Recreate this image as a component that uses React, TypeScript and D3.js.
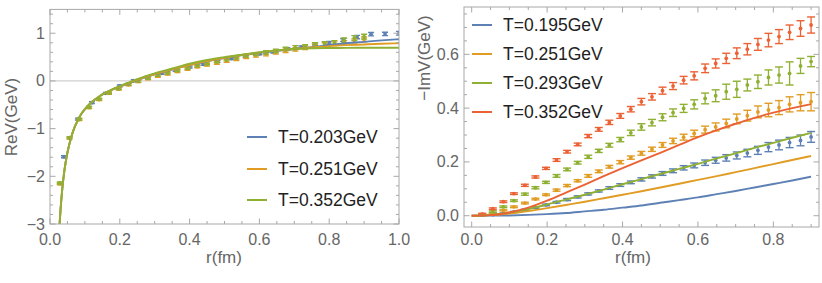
import React from "react";
import * as d3 from "d3";

// ---------- colours ----------
const BLUE = "#5E81B5";
const ORANGE = "#E19C24";
const GREEN = "#8FB032";
const RED = "#EB6235";

// ---------- LEFT PANEL (ReV) ----------
const leftLegend = ["T=0.203GeV", "T=0.251GeV", "T=0.352GeV"];
const leftXTicks = [0, 0.2, 0.4, 0.6, 0.8, 1.0];
const leftYTicks = [-3, -2, -1, 0, 1];

const leftCurveR = [0.0275, 0.03, 0.035, 0.04, 0.045, 0.05, 0.06, 0.07, 0.08, 0.09, 0.1, 0.12, 0.14, 0.16, 0.18, 0.2, 0.25, 0.3, 0.35, 0.4, 0.45, 0.5, 0.55, 0.6, 0.65, 0.7, 0.75, 0.8, 0.85, 0.9, 0.95, 1.0];
const leftCurveBlue = [-3.0, -2.72, -2.28, -1.95, -1.70, -1.50, -1.20, -0.98, -0.82, -0.69, -0.59, -0.44, -0.33, -0.245, -0.175, -0.12, 0.02, 0.14, 0.24, 0.33, 0.41, 0.48, 0.54, 0.59, 0.63, 0.67, 0.71, 0.75, 0.79, 0.82, 0.85, 0.875];
const leftCurveOrange = [-3.0, -2.72, -2.28, -1.95, -1.70, -1.50, -1.20, -0.98, -0.82, -0.69, -0.59, -0.44, -0.33, -0.245, -0.175, -0.118, 0.025, 0.145, 0.245, 0.335, 0.415, 0.485, 0.545, 0.595, 0.635, 0.67, 0.70, 0.73, 0.75, 0.765, 0.78, 0.79];
const leftCurveGreen = [-3.0, -2.72, -2.28, -1.95, -1.70, -1.50, -1.20, -0.98, -0.82, -0.69, -0.59, -0.44, -0.33, -0.24, -0.17, -0.11, 0.04, 0.16, 0.26, 0.36, 0.44, 0.50, 0.55, 0.60, 0.64, 0.67, 0.685, 0.69, 0.693, 0.695, 0.695, 0.695];

const leftBlueR = [0.04, 0.08, 0.12, 0.16, 0.2, 0.24, 0.28, 0.32, 0.36, 0.4, 0.44, 0.48, 0.52, 0.56, 0.6, 0.64, 0.68, 0.72, 0.76, 0.8, 0.84, 0.88, 0.92, 0.96, 1.0];
const leftBlueV = [-1.59, -0.80, -0.455, -0.26, -0.105, 0.006, 0.08, 0.16, 0.22, 0.29, 0.35, 0.41, 0.47, 0.52, 0.57, 0.61, 0.67, 0.71, 0.77, 0.80, 0.86, 0.92, 0.98, 0.985, 1.0];
const leftBlueErr = [0.02, 0.02, 0.02, 0.02, 0.02, 0.02, 0.02, 0.02, 0.02, 0.02, 0.02, 0.02, 0.02, 0.02, 0.02, 0.025, 0.025, 0.025, 0.03, 0.03, 0.03, 0.035, 0.035, 0.035, 0.04];

const leftFineR = [0.028, 0.056, 0.084, 0.112, 0.141, 0.169, 0.197, 0.225, 0.253, 0.281, 0.309, 0.337, 0.365, 0.394, 0.422, 0.45, 0.478, 0.506, 0.534, 0.562, 0.59, 0.619, 0.647, 0.675, 0.703, 0.731, 0.759, 0.787, 0.815, 0.843, 0.872, 0.9];
const leftOrangeV = [-2.16, -1.2, -0.81, -0.56, -0.39, -0.26, -0.17, -0.08, -0.01, 0.05, 0.10, 0.15, 0.20, 0.25, 0.30, 0.34, 0.38, 0.42, 0.46, 0.50, 0.53, 0.56, 0.60, 0.63, 0.66, 0.70, 0.73, 0.76, 0.78, 0.80, 0.84, 0.87];
const leftOrangeErr = [0.02, 0.02, 0.02, 0.02, 0.02, 0.02, 0.02, 0.02, 0.025, 0.025, 0.025, 0.025, 0.025, 0.025, 0.025, 0.03, 0.03, 0.03, 0.03, 0.03, 0.03, 0.035, 0.035, 0.035, 0.035, 0.04, 0.04, 0.04, 0.04, 0.045, 0.045, 0.05];
const leftGreenV = [-2.14, -1.19, -0.80, -0.55, -0.38, -0.25, -0.16, -0.07, 0.0, 0.06, 0.12, 0.17, 0.22, 0.27, 0.32, 0.37, 0.41, 0.45, 0.49, 0.53, 0.56, 0.60, 0.63, 0.67, 0.70, 0.72, 0.76, 0.78, 0.80, 0.85, 0.90, 0.93];
const leftGreenErr = [0.02, 0.02, 0.02, 0.02, 0.02, 0.02, 0.02, 0.02, 0.025, 0.025, 0.025, 0.025, 0.025, 0.025, 0.025, 0.03, 0.03, 0.03, 0.03, 0.03, 0.03, 0.035, 0.035, 0.035, 0.04, 0.04, 0.04, 0.045, 0.045, 0.05, 0.05, 0.05];

// ---------- RIGHT PANEL (-ImV) ----------
const rightLegend = ["T=0.195GeV", "T=0.251GeV", "T=0.293GeV", "T=0.352GeV"];
const rightXTicks = [0, 0.2, 0.4, 0.6, 0.8];
const rightYTicks = [0, 0.2, 0.4, 0.6];

const rightLineR = [0, 0.05, 0.1, 0.15, 0.2, 0.25, 0.3, 0.35, 0.4, 0.45, 0.5, 0.55, 0.6, 0.65, 0.7, 0.75, 0.8, 0.85, 0.9];
const rightLineBlue = [0, 0.0003, 0.001, 0.003, 0.006, 0.010, 0.016, 0.022, 0.030, 0.038, 0.048, 0.058, 0.068, 0.080, 0.092, 0.105, 0.118, 0.131, 0.145];
const rightLineOrange = [0, 0.002, 0.008, 0.017, 0.028, 0.040, 0.052, 0.065, 0.078, 0.091, 0.105, 0.119, 0.133, 0.147, 0.162, 0.177, 0.192, 0.207, 0.222];
const rightLineGreen = [0, 0.003, 0.012, 0.025, 0.042, 0.060, 0.078, 0.097, 0.117, 0.136, 0.155, 0.174, 0.193, 0.213, 0.232, 0.252, 0.271, 0.290, 0.308];
const rightLineRed = [0, 0.002, 0.012, 0.030, 0.056, 0.086, 0.116, 0.147, 0.177, 0.206, 0.234, 0.263, 0.292, 0.318, 0.342, 0.364, 0.383, 0.400, 0.415];

const rightR = [0.028, 0.056, 0.084, 0.112, 0.141, 0.169, 0.197, 0.225, 0.253, 0.281, 0.309, 0.337, 0.365, 0.394, 0.422, 0.45, 0.478, 0.506, 0.534, 0.562, 0.59, 0.619, 0.647, 0.675, 0.703, 0.731, 0.759, 0.787, 0.815, 0.843, 0.872, 0.9];
const rightBlueV = [0.002, 0.004, 0.008, 0.014, 0.021, 0.030, 0.040, 0.050, 0.060, 0.070, 0.081, 0.092, 0.103, 0.114, 0.124, 0.135, 0.146, 0.157, 0.167, 0.178, 0.187, 0.197, 0.206, 0.215, 0.224, 0.233, 0.243, 0.255, 0.263, 0.272, 0.280, 0.293];
const rightBlueErr = [0.002, 0.002, 0.002, 0.002, 0.003, 0.003, 0.003, 0.003, 0.004, 0.004, 0.004, 0.004, 0.005, 0.005, 0.005, 0.006, 0.006, 0.007, 0.007, 0.008, 0.009, 0.010, 0.011, 0.012, 0.013, 0.014, 0.015, 0.017, 0.018, 0.019, 0.020, 0.020];
const rightOrangeV = [0.003, 0.010, 0.020, 0.033, 0.047, 0.062, 0.078, 0.095, 0.112, 0.130, 0.148, 0.165, 0.182, 0.199, 0.216, 0.232, 0.247, 0.263, 0.278, 0.292, 0.306, 0.320, 0.330, 0.343, 0.360, 0.372, 0.386, 0.393, 0.402, 0.414, 0.420, 0.424];
const rightOrangeErr = [0.002, 0.002, 0.002, 0.003, 0.003, 0.003, 0.003, 0.004, 0.004, 0.004, 0.005, 0.005, 0.005, 0.006, 0.006, 0.007, 0.008, 0.009, 0.010, 0.011, 0.012, 0.013, 0.015, 0.016, 0.018, 0.020, 0.022, 0.025, 0.026, 0.028, 0.030, 0.034];
const rightGreenV = [0.004, 0.015, 0.033, 0.056, 0.080, 0.104, 0.124, 0.148, 0.172, 0.197, 0.219, 0.241, 0.262, 0.283, 0.308, 0.330, 0.346, 0.366, 0.383, 0.399, 0.414, 0.436, 0.446, 0.461, 0.470, 0.486, 0.498, 0.514, 0.523, 0.529, 0.557, 0.573];
const rightGreenErr = [0.002, 0.003, 0.003, 0.003, 0.004, 0.004, 0.004, 0.005, 0.005, 0.005, 0.006, 0.006, 0.007, 0.008, 0.010, 0.012, 0.012, 0.013, 0.014, 0.015, 0.017, 0.020, 0.022, 0.028, 0.030, 0.022, 0.025, 0.028, 0.030, 0.043, 0.028, 0.019];
const rightRedV = [0.006, 0.026, 0.052, 0.082, 0.113, 0.144, 0.176, 0.207, 0.238, 0.265, 0.296, 0.321, 0.347, 0.371, 0.396, 0.424, 0.442, 0.465, 0.482, 0.504, 0.520, 0.548, 0.566, 0.585, 0.604, 0.619, 0.637, 0.653, 0.666, 0.682, 0.696, 0.709];
const rightRedErr = [0.003, 0.003, 0.003, 0.003, 0.004, 0.004, 0.004, 0.005, 0.005, 0.005, 0.006, 0.007, 0.008, 0.009, 0.010, 0.012, 0.012, 0.013, 0.013, 0.014, 0.015, 0.016, 0.017, 0.019, 0.020, 0.021, 0.022, 0.025, 0.026, 0.027, 0.029, 0.030];

const FONT = "'Liberation Sans', Arial, sans-serif";
const FRAME = "#a8a8a8";
const TXT = "#666666";

type Series = { r: number[]; v: number[]; color: string };
type ErrSeries = { r: number[]; v: number[]; e: number[]; color: string };

function fmt(v: number, digits: number) {
  const s = v.toFixed(digits);
  return s.startsWith("-") ? "\u2212" + s.slice(1) : s;
}

function Panel(props: {
  id: string;
  x: d3.ScaleLinear<number, number>;
  y: d3.ScaleLinear<number, number>;
  xTicks: number[];
  yTicks: number[];
  xMinorStep: number;
  yMinorStep: number;
  xDigits: number;
  yDigits: number;
  yLabel: string;
  yLabelX: number;
  yLabelY: number;
  xLabelX: number;
  zeroLine: boolean;
  lines: Series[];
  points: ErrSeries[];
  capW: number;
  legend: { text: string; color: string }[];
  legendX: number;
  legendYs: number[];
}) {
  const { x, y } = props;
  const [x0, x1] = x.range();
  const [y0, y1] = y.range(); // y0 bottom, y1 top
  const xd = x.domain();
  const yd = y.domain();
  const xMinor = d3.range(Math.ceil(xd[0] / props.xMinorStep - 1e-9), Math.floor(xd[1] / props.xMinorStep + 1e-9) + 1).map((k) => k * props.xMinorStep);
  const yMinor = d3.range(Math.ceil(yd[0] / props.yMinorStep - 1e-9), Math.floor(yd[1] / props.yMinorStep + 1e-9) + 1).map((k) => k * props.yMinorStep);
  const isMajor = (v: number, ticks: number[]) => ticks.some((t) => Math.abs(t - v) < 1e-6);
  const line = d3
    .line<[number, number]>()
    .x((d) => x(d[0]))
    .y((d) => y(d[1]))
    .curve(d3.curveMonotoneX);
  const MAJ = 5.5;
  const MIN = 3;
  return (
    <g>
      <defs>
        <clipPath id={props.id}>
          <rect x={x0} y={y1} width={x1 - x0} height={y0 - y1} />
        </clipPath>
      </defs>
      {props.zeroLine && (
        <line x1={x0} x2={x1} y1={y(0)} y2={y(0)} stroke="#d0d0d0" strokeWidth={1.2} />
      )}
      <g clipPath={`url(#${props.id})`}>
        {props.points.map((s, si) => (
          <g key={"p" + si} stroke={s.color} fill={s.color}>
            {s.r.map((r, i) => {
              const cx = x(r);
              const top = y(s.v[i] + s.e[i]);
              const bot = y(s.v[i] - s.e[i]);
              return (
                <g key={i}>
                  <line x1={cx} x2={cx} y1={top} y2={bot} strokeWidth={1.3} />
                  <line x1={cx - props.capW} x2={cx + props.capW} y1={top} y2={top} strokeWidth={1.4} />
                  <line x1={cx - props.capW} x2={cx + props.capW} y1={bot} y2={bot} strokeWidth={1.4} />
                  <circle cx={cx} cy={y(s.v[i])} r={1.9} stroke="none" />
                </g>
              );
            })}
          </g>
        ))}
        {props.lines.map((s, si) => (
          <path
            key={"l" + si}
            d={line(s.r.map((r, i) => [r, s.v[i]] as [number, number])) || ""}
            fill="none"
            stroke={s.color}
            strokeWidth={1.9}
          />
        ))}
      </g>
      {/* frame */}
      <rect x={x0} y={y1} width={x1 - x0} height={y0 - y1} fill="none" stroke={FRAME} strokeWidth={1} />
      {/* x ticks */}
      {xMinor.map((v, i) => {
        const len = isMajor(v, props.xTicks) ? MAJ : MIN;
        const px = x(v);
        return (
          <g key={"xt" + i} stroke={FRAME} strokeWidth={1}>
            <line x1={px} x2={px} y1={y0} y2={y0 - len} />
            <line x1={px} x2={px} y1={y1} y2={y1 + len} />
          </g>
        );
      })}
      {yMinor.map((v, i) => {
        const len = isMajor(v, props.yTicks) ? MAJ : MIN;
        const py = y(v);
        return (
          <g key={"yt" + i} stroke={FRAME} strokeWidth={1}>
            <line x1={x0} x2={x0 + len} y1={py} y2={py} />
            <line x1={x1} x2={x1 - len} y1={py} y2={py} />
          </g>
        );
      })}
      {props.xTicks.map((v, i) => (
        <text key={"xl" + i} x={x(v)} y={239} textAnchor="middle" dominantBaseline="central" fontSize={16} fill={TXT} fontFamily={FONT}>
          {fmt(v, props.xDigits)}
        </text>
      ))}
      {props.yTicks.map((v, i) => (
        <text key={"yl" + i} x={x0 - 5} y={y(v)} textAnchor="end" dominantBaseline="central" fontSize={16} fill={TXT} fontFamily={FONT}>
          {fmt(v, props.yDigits)}
        </text>
      ))}
      <text x={props.xLabelX} y={257} textAnchor="middle" dominantBaseline="central" fontSize={17} fill={TXT} fontFamily={FONT}>
        r(fm)
      </text>
      <text
        transform={`translate(${props.yLabelX},${props.yLabelY}) rotate(-90)`}
        textAnchor="middle"
        dominantBaseline="central"
        fontSize={17}
        fill={TXT}
        fontFamily={FONT}
      >
        {props.yLabel}
      </text>
      {props.legend.map((l, i) => (
        <g key={"lg" + i}>
          <line x1={props.legendX} x2={props.legendX + 20} y1={props.legendYs[i]} y2={props.legendYs[i]} stroke={l.color} strokeWidth={2} />
          <text x={props.legendX + 31} y={props.legendYs[i]} dominantBaseline="central" fontSize={17.5} fill="#222" fontFamily={FONT}>
            {l.text}
          </text>
        </g>
      ))}
    </g>
  );
}

export default function App() {
  const xL = d3.scaleLinear().domain([0, 1]).range([50, 399]);
  const yL = d3.scaleLinear().domain([-3, 1.5]).range([224, 9.4]);
  const xR = d3.scaleLinear().domain([-0.0204, 0.921]).range([464, 819]);
  const yR = d3.scaleLinear().domain([-0.042, 0.776]).range([227, 7]);

  return (
    <svg width={822} height={283} style={{ position: "absolute", left: 0, top: 0, background: "#fff" }}>
      <rect x={0} y={0} width={822} height={283} fill="#fff" />
      <Panel
        id="clipL"
        x={xL}
        y={yL}
        xTicks={leftXTicks}
        yTicks={leftYTicks}
        xMinorStep={0.05}
        yMinorStep={0.2}
        xDigits={1}
        yDigits={0}
        yLabel="ReV(GeV)"
        yLabelX={11}
        yLabelY={117}
        xLabelX={224}
        zeroLine={true}
        points={[
          { r: leftBlueR, v: leftBlueV, e: leftBlueErr, color: BLUE },
          { r: leftFineR, v: leftOrangeV, e: leftOrangeErr, color: ORANGE },
          { r: leftFineR, v: leftGreenV, e: leftGreenErr, color: GREEN },
        ]}
        lines={[
          { r: leftCurveR, v: leftCurveBlue, color: BLUE },
          { r: leftCurveR, v: leftCurveOrange, color: ORANGE },
          { r: leftCurveR, v: leftCurveGreen, color: GREEN },
        ]}
        capW={3}
        legend={leftLegend.map((t, i) => ({ text: t, color: [BLUE, ORANGE, GREEN][i] }))}
        legendX={247}
        legendYs={[137, 169, 200]}
      />
      <Panel
        id="clipR"
        x={xR}
        y={yR}
        xTicks={rightXTicks}
        yTicks={rightYTicks}
        xMinorStep={0.05}
        yMinorStep={0.05}
        xDigits={1}
        yDigits={1}
        yLabel={"\u2212ImV(GeV)"}
        yLabelX={424}
        yLabelY={58}
        xLabelX={633}
        zeroLine={false}
        points={[
          { r: rightR, v: rightBlueV, e: rightBlueErr, color: BLUE },
          { r: rightR, v: rightOrangeV, e: rightOrangeErr, color: ORANGE },
          { r: rightR, v: rightGreenV, e: rightGreenErr, color: GREEN },
          { r: rightR, v: rightRedV, e: rightRedErr, color: RED },
        ]}
        lines={[
          { r: rightLineR, v: rightLineBlue, color: BLUE },
          { r: rightLineR, v: rightLineOrange, color: ORANGE },
          { r: rightLineR, v: rightLineGreen, color: GREEN },
          { r: rightLineR, v: rightLineRed, color: RED },
        ]}
        capW={4}
        legend={rightLegend.map((t, i) => ({ text: t, color: [BLUE, ORANGE, GREEN, RED][i] }))}
        legendX={472}
        legendYs={[25, 54, 83, 112]}
      />
    </svg>
  );
}
